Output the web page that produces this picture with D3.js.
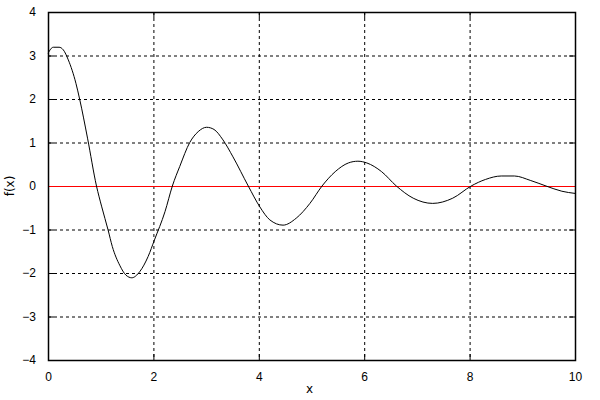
<!DOCTYPE html>
<html>
<head>
<meta charset="utf-8">
<script src="https://cdn.jsdelivr.net/npm/d3@7"></script>
<style>
  body { margin: 0; background: #fff; }
  svg { display: block; font-family: "DejaVu Sans", sans-serif; }
</style>
</head>
<body>
<svg id="chart" width="600" height="400"></svg>
<script>
// values
const xs = [0, 0.1, 0.21, 0.29, 0.385, 0.53, 0.6, 0.75, 0.92, 1.02, 1.14, 1.22, 1.36, 1.48, 1.59,
  1.74, 1.9, 2.02, 2.22, 2.36, 2.5, 2.69, 2.85, 3.01, 3.15, 3.32, 3.51, 3.8, 4.02, 4.21, 4.46,
  4.71, 4.97, 5.2, 5.45, 5.7, 5.88, 6.05, 6.33, 6.61, 6.93, 7.3, 7.68, 8.03, 8.3, 8.6, 8.85,
  9.15, 9.45, 9.75, 10];
const ys = [3.05, 3.19, 3.19, 3.13, 2.9, 2.36, 2.0, 1.1, 0.0, -0.48, -1.01, -1.39, -1.82, -2.05, -2.11,
  -1.97, -1.62, -1.24, -0.59, 0, 0.45, 1.0, 1.25, 1.35, 1.3, 1.06, 0.67, 0, -0.48, -0.78, -0.9,
  -0.74, -0.4, 0, 0.33, 0.53, 0.57, 0.53, 0.33, 0, -0.28, -0.4, -0.28, 0, 0.15, 0.23, 0.23,
  0.13, 0, -0.12, -0.17];
const xTicks = [0, 2, 4, 6, 8, 10];
const yTicks = [-4, -3, -2, -1, 0, 1, 2, 3, 4];
const refLine = 0;

const data = xs.map((x, i) => ({x: x, y: ys[i]}));

const margin = {top: 12, right: 25, bottom: 40, left: 48};
const width = 600 - margin.left - margin.right;
const height = 400 - margin.top - margin.bottom;

const svg = d3.select("#chart");
const g = svg.append("g").attr("transform", "translate(" + margin.left + "," + margin.top + ")");

const x = d3.scaleLinear().domain([0, 10]).range([0, width]);
const y = d3.scaleLinear().domain([-4, 4]).range([height, 0]);

// grid
g.append("g").selectAll("line")
  .data(xTicks.slice(1, -1))
  .enter().append("line")
  .attr("x1", d => x(d) + 0.5).attr("x2", d => x(d) + 0.5)
  .attr("y1", 0).attr("y2", height)
  .attr("stroke", "#000").attr("stroke-width", 1).attr("stroke-dasharray", "3,3");
g.append("g").selectAll("line")
  .data(yTicks.slice(1, -1))
  .enter().append("line")
  .attr("y1", d => y(d) + 0.5).attr("y2", d => y(d) + 0.5)
  .attr("x1", 0).attr("x2", width)
  .attr("stroke", "#000").attr("stroke-width", 1).attr("stroke-dasharray", "3,3");

// axes (ticks inward, mirrored)
const tickStyle = sel => {
  sel.select(".domain").remove();
  sel.selectAll("text").attr("font-size", "12px").attr("fill", "#000");
  sel.selectAll("line").attr("stroke", "#000");
};
g.append("g").attr("transform", "translate(0," + height + ")")
  .call(d3.axisBottom(x).tickValues(xTicks).tickSize(-6).tickPadding(12).tickFormat(d3.format("d")))
  .call(tickStyle);
g.append("g")
  .call(d3.axisLeft(y).tickValues(yTicks).tickSize(-6).tickPadding(12).tickFormat(d3.format("d")))
  .call(tickStyle);
g.append("g")
  .call(d3.axisTop(x).tickValues(xTicks).tickSize(-6).tickFormat(""))
  .call(tickStyle);
g.append("g").attr("transform", "translate(" + width + ",0)")
  .call(d3.axisRight(y).tickValues(yTicks).tickSize(-6).tickFormat(""))
  .call(tickStyle);

// reference line
g.append("line")
  .attr("x1", 0).attr("x2", width)
  .attr("y1", y(refLine) + 0.5).attr("y2", y(refLine) + 0.5)
  .attr("stroke", "#f00").attr("stroke-width", 1);

// curve
const line = d3.line()
  .x(d => x(d.x))
  .y(d => y(d.y))
  .curve(d3.curveMonotoneX);

g.append("path")
  .datum(data)
  .attr("fill", "none")
  .attr("stroke", "#000")
  .attr("stroke-width", 1)
  .attr("d", line);

// frame
g.append("rect")
  .attr("x", 0.5).attr("y", 0.5)
  .attr("width", width).attr("height", height)
  .attr("fill", "none").attr("stroke", "#000").attr("stroke-width", 1.5);

// labels
svg.append("text")
  .attr("x", margin.left + width / 2 - 2).attr("y", 393)
  .attr("text-anchor", "middle").attr("font-size", "12px")
  .text("x");
svg.append("text")
  .attr("transform", "translate(14," + (margin.top + height / 2) + ") rotate(-90)")
  .attr("text-anchor", "middle").attr("font-size", "12px")
  .text("f(x)");
</script>
</body>
</html>
